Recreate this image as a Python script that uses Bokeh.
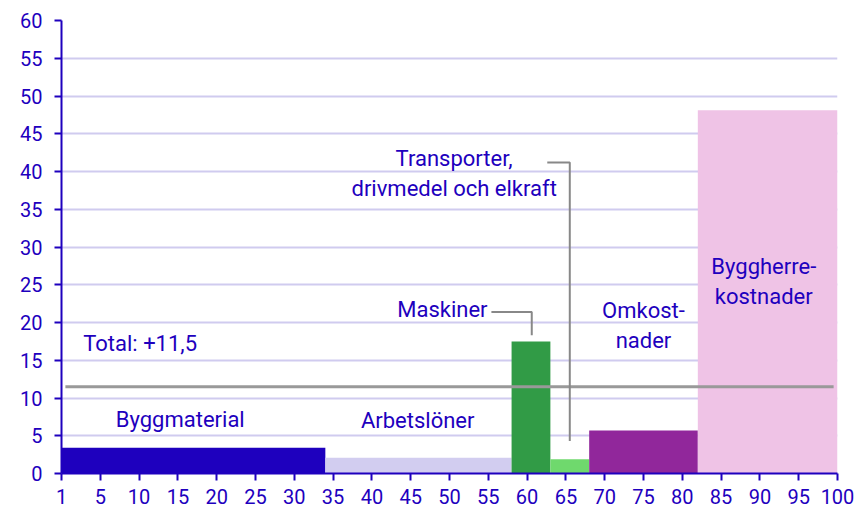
from bokeh.plotting import figure
from bokeh.models import Range1d, FixedTicker, ColumnDataSource
from bokeh.core.properties import value
from bokeh.embed import file_html
from bokeh.resources import INLINE

# ---- data ----
categories = ["Byggmaterial", "Arbetslöner", "Maskiner",
              "Transporter, drivmedel och elkraft", "Omkostnader", "Byggherrekostnader"]
weights = [34, 24, 5, 5, 14, 18]
changes = [3.4, 2.1, 17.5, 1.9, 5.7, 48.1]
total_change = 11.5
total_label = "Total: +11,5"
x_tick_values = [0, 5, 10, 15, 20, 25, 30, 35, 40, 45, 50, 55, 60, 65, 70, 75, 80, 85, 90, 95, 100]
x_tick_labels = ["1", "5", "10", "15", "20", "25", "30", "35", "40", "45", "50",
                 "55", "60", "65", "70", "75", "80", "85", "90", "95", "100"]
y_tick_values = [0, 5, 10, 15, 20, 25, 30, 35, 40, 45, 50, 55, 60]

colors = ["#1e00be", "#d2cdf0", "#319b46", "#6fd96d", "#91279b", "#efc3e6"]
TEXT = "#1e00be"
FONT = "Roboto"

lefts, rights = [], []
acc = 0
for w in weights:
    lefts.append(acc)
    acc += w
    rights.append(acc)

src = ColumnDataSource(dict(left=lefts, right=rights, bottom=[0] * len(changes),
                            top=changes, color=colors, cat=categories))

p = figure(width=862, height=520, x_range=Range1d(0, 100), y_range=Range1d(0, 60),
           output_backend="svg", toolbar_location=None,
           min_border_left=61, min_border_right=25, min_border_top=20, min_border_bottom=47)
p.outline_line_color = None
p.background_fill_color = "white"
p.border_fill_color = "white"

p.xgrid.grid_line_color = None
p.ygrid.grid_line_color = "#d0cbef"
p.ygrid.grid_line_width = 2
p.ygrid.ticker = FixedTicker(ticks=y_tick_values)

p.quad(left="left", right="right", bottom="bottom", top="top", fill_color="color",
       line_color=None, source=src)

# total line
p.line(x=[0.5, 99.5], y=[total_change, total_change], line_color="#999999", line_width=3)

# leader lines
p.line(x=[55.4, 60.6, 60.6], y=[21.4, 21.4, 18.3], line_color="#888888", line_width=2)
p.line(x=[62.6, 65.5, 65.5], y=[41.2, 41.2, 4.3], line_color="#888888", line_width=2)

# axes
for ax in (p.xaxis, p.yaxis):
    ax.axis_line_color = TEXT
    ax.axis_line_width = 2
    ax.major_tick_line_color = TEXT
    ax.major_tick_line_width = 2
    ax.major_tick_out = 7
    ax.major_tick_in = 0
    ax.minor_tick_line_color = None
    ax.major_label_text_font = FONT
    ax.major_label_text_font_size = "20px"
    ax.major_label_text_color = TEXT

p.xaxis.ticker = FixedTicker(ticks=x_tick_values)
p.xaxis.major_label_overrides = {v: l for v, l in zip(x_tick_values, x_tick_labels)}
p.xaxis.major_label_standoff = 8
p.yaxis.ticker = FixedTicker(ticks=y_tick_values)
p.yaxis.major_label_standoff = 12

# labels
def label(x, y, txt, align="center"):
    p.text(x=[x], y=[y], text=[txt], text_font=value(FONT), text_font_size="22px",
           text_color=TEXT, text_align=align, text_baseline="middle", text_line_height=1.2)

label(2.8, 17.2, total_label, "left")
label(15.3, 7.2, categories[0])
label(45.9, 7.0, categories[1])
label(54.9, 21.7, categories[2], "right")
label(50.6, 39.7, "Transporter,\ndrivmedel och elkraft")
label(75.0, 19.6, "Omkost-\nnader")
label(90.5, 25.4, "Byggherre-\nkostnader")

open("out.html", "w").write(file_html(p, INLINE))
